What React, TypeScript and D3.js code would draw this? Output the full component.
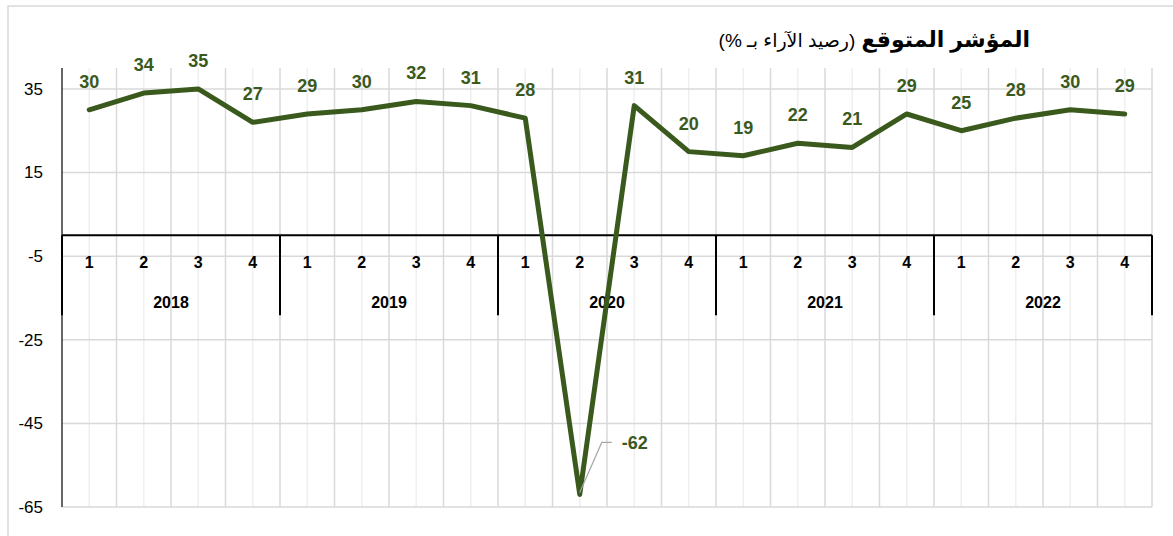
import * as d3 from "d3";

const years = ["2018", "2019", "2020", "2021", "2022"];
const quarters = ["1", "2", "3", "4"];
const values = [30, 34, 35, 27, 29, 30, 32, 31, 28, -62, 31, 20, 19, 22, 21, 29, 25, 28, 30, 29];
const yTicks = [35, 15, -5, -25, -45, -65];

const titleBold = "المؤشر المتوقع ";
const titleRest = "(رصيد الآراء بـ %)";

const green = "#3a591d";
const font = "Arial, 'Liberation Sans', 'DejaVu Sans', sans-serif";

export default function App() {
  const width = 1173;
  const height = 536;
  const left = 62, right = 1152, top = 68, bottom = 507;

  const cats = values.map((_, i) => i);
  const x = d3.scaleBand<number>().domain(cats).range([left, right]);
  const y = d3.scaleLinear().domain([-65, 40]).range([bottom, top]);
  const bw = x.bandwidth();
  const cx = (i: number) => (x(i) as number) + bw / 2;
  const y0 = y(0);

  const line = d3.line<number>()
    .x((_, i) => cx(i))
    .y(d => y(d));

  const minIdx = values.indexOf(d3.min(values) as number);

  return (
    <svg width={width} height={height} style={{ position: "absolute", left: 0, top: 0, fontFamily: font }}>
      <rect x={8} y={6} width={1200} height={600} fill="#fff" stroke="#d9d9d9" strokeWidth={1.5} />

      {/* minor vertical gridlines at category centers */}
      {cats.map(i => (
        <line key={"mv" + i} x1={cx(i)} x2={cx(i)} y1={top} y2={bottom} stroke="#efefef" strokeWidth={1.5} />
      ))}
      {/* major vertical gridlines at category boundaries */}
      {cats.slice(1).concat([values.length]).map(i => {
        const xx = i === values.length ? right : (x(i) as number);
        return <line key={"Mv" + i} x1={xx} x2={xx} y1={top} y2={bottom} stroke="#d9d9d9" strokeWidth={1.5} />;
      })}
      {/* horizontal gridlines */}
      {yTicks.map(t => (
        <line key={"h" + t} x1={left} x2={right} y1={y(t)} y2={y(t)} stroke="#d9d9d9" strokeWidth={1.5} />
      ))}

      {/* value axis */}
      <line x1={left} x2={left} y1={top} y2={bottom} stroke="#000" strokeWidth={1.2} />
      {yTicks.map(t => (
        <text key={"yt" + t} x={43} y={y(t)} dy="0.35em" textAnchor="end" fontSize={17} fill="#000">{t}</text>
      ))}

      {/* category axis at zero */}
      <line x1={left} x2={right} y1={y0} y2={y0} stroke="#000" strokeWidth={2} />
      {years.concat([""]).map((_, k) => {
        const xx = left + k * bw * 4;
        return <line key={"yl" + k} x1={xx} x2={xx} y1={y0} y2={y0 + 80} stroke="#000" strokeWidth={2} />;
      })}
      {cats.map(i => (
        <text key={"q" + i} x={cx(i)} y={y0 + 33} textAnchor="middle" fontSize={16} fontWeight="bold" fill="#000">
          {quarters[i % 4]}
        </text>
      ))}
      {years.map((yr, k) => (
        <text key={"yr" + k} x={left + (k * 4 + 2) * bw} y={y0 + 73} textAnchor="middle" fontSize={16} fontWeight="bold" fill="#000">
          {yr}
        </text>
      ))}

      {/* series */}
      <path d={line(values) as string} fill="none" stroke={green} strokeWidth={5} strokeLinejoin="round" strokeLinecap="round" />

      {/* data labels */}
      {values.map((v, i) => i === minIdx ? null : (
        <text key={"l" + i} x={cx(i)} y={y(v) - 22} textAnchor="middle" fontSize={18} fontWeight="bold" fill={green}>
          {v}
        </text>
      ))}
      <polyline
        points={`${cx(minIdx)},${y(values[minIdx]) - 2} ${cx(minIdx) + 22},${y(values[minIdx]) - 52} ${cx(minIdx) + 32},${y(values[minIdx]) - 52}`}
        fill="none" stroke="#a6a6a6" strokeWidth={1.2}
      />
      <text x={cx(minIdx) + 42} y={y(values[minIdx]) - 45} fontSize={18} fontWeight="bold" fill={green}>
        {values[minIdx]}
      </text>

      {/* title */}
      <text x={1030} y={47} direction="rtl" textAnchor="start" fill="#000">
        <tspan fontSize={22} fontWeight="bold">{titleBold}</tspan>
        <tspan fontSize={19}>{titleRest}</tspan>
      </text>
    </svg>
  );
}
